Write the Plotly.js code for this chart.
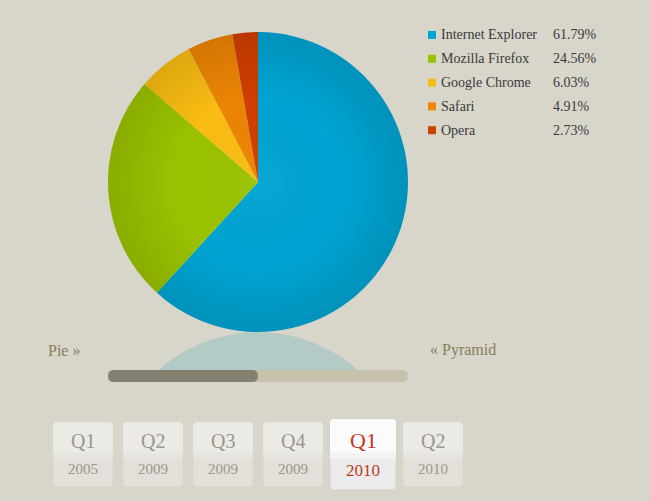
<!DOCTYPE html>
<html>
<head>
<meta charset="utf-8">
<script src="https://cdn.plot.ly/plotly-3.0.1.min.js"></script>
<style>
html,body{margin:0;padding:0;background:#d8d5ca;}
#chart{width:650px;height:501px;}
</style>
</head>
<body>
<div id="chart"></div>
<script>
const browsers = ["Internet Explorer", "Mozilla Firefox", "Google Chrome", "Safari", "Opera"];
const shares = [61.79, 24.56, 6.03, 4.91, 2.73];
const sliceColors = ["#00a4d2", "#9ac200", "#f9bc12", "#ec8404", "#d03e00"];
const quarters = ["Q1", "Q2", "Q3", "Q4", "Q1", "Q2"];
const years = ["2005", "2009", "2009", "2009", "2010", "2010"];
const selectedIndex = 4;
const navLeft = "Pie »";
const navRight = "« Pyramid";

const W = 650, H = 501;
const X = px => px / W;
const Y = py => 1 - py / H;
const serif = "Liberation Serif, Times New Roman, serif";

function rrect(x0, y0, x1, y1, r, topOnly) {
  const p = [];
  p.push("M" + X(x0 + r) + "," + Y(y0));
  p.push("L" + X(x1 - r) + "," + Y(y0));
  p.push("Q" + X(x1) + "," + Y(y0) + " " + X(x1) + "," + Y(y0 + r));
  if (topOnly) {
    p.push("L" + X(x1) + "," + Y(y1));
    p.push("L" + X(x0) + "," + Y(y1));
  } else {
    p.push("L" + X(x1) + "," + Y(y1 - r));
    p.push("Q" + X(x1) + "," + Y(y1) + " " + X(x1 - r) + "," + Y(y1));
    p.push("L" + X(x0 + r) + "," + Y(y1));
    p.push("Q" + X(x0) + "," + Y(y1) + " " + X(x0) + "," + Y(y1 - r));
  }
  p.push("L" + X(x0) + "," + Y(y0 + r));
  p.push("Q" + X(x0) + "," + Y(y0) + " " + X(x0 + r) + "," + Y(y0));
  p.push("Z");
  return p.join(" ");
}

const pieBox = {x0: 108, y0: 32, x1: 408, y1: 332};

const trace = {
  type: "pie",
  values: shares,
  labels: browsers,
  sort: false,
  direction: "clockwise",
  rotation: 0,
  textinfo: "none",
  hoverinfo: "label+percent",
  showlegend: false,
  marker: {colors: sliceColors, line: {width: 0}},
  domain: {x: [X(pieBox.x0), X(pieBox.x1)], y: [Y(pieBox.y1), Y(pieBox.y0)]}
};

const shapes = [];
const annotations = [];
const txtShift = 2;

// reflection of the pie
shapes.push({type: "circle", xref: "paper", yref: "paper", layer: "below",
  x0: X(108), x1: X(408), y0: Y(332), y1: Y(632),
  fillcolor: "#b4cac7", line: {width: 0}});
shapes.push({type: "rect", xref: "paper", yref: "paper", layer: "below",
  x0: 0, x1: 1, y0: 0, y1: Y(371),
  fillcolor: "#d8d5ca", line: {width: 0}});

// slider
shapes.push({type: "path", xref: "paper", yref: "paper", layer: "below",
  path: rrect(108, 370, 408, 382, 6), fillcolor: "#c8c1ab", line: {width: 0}});
shapes.push({type: "path", xref: "paper", yref: "paper", layer: "below",
  path: rrect(108, 370, 258, 382, 6), fillcolor: "#857f70", line: {width: 0}});

// legend
browsers.forEach((name, i) => {
  const cy = 35 + 23.8 * i;
  shapes.push({type: "rect", xref: "paper", yref: "paper", layer: "above",
    x0: X(428), x1: X(436), y0: Y(cy + 4), y1: Y(cy - 4),
    fillcolor: sliceColors[i], line: {width: 0}});
  annotations.push({xref: "paper", yref: "paper", x: X(441 - txtShift), y: Y(cy), xanchor: "left", yanchor: "middle",
    text: name, showarrow: false, font: {family: serif, size: 14, color: "#3a3a3a"}});
  annotations.push({xref: "paper", yref: "paper", x: X(553 - txtShift), y: Y(cy), xanchor: "left", yanchor: "middle",
    text: shares[i].toFixed(2) + "%", showarrow: false, font: {family: serif, size: 14, color: "#3a3a3a"}});
});

// nav labels
annotations.push({xref: "paper", yref: "paper", x: X(48 - txtShift), y: Y(350), xanchor: "left", yanchor: "middle",
  text: navLeft, showarrow: false, font: {family: serif, size: 16, color: "#8a7d5b"}});
annotations.push({xref: "paper", yref: "paper", x: X(430 - txtShift), y: Y(350), xanchor: "left", yanchor: "middle",
  text: navRight, showarrow: false, font: {family: serif, size: 16, color: "#8a7d5b"}});

// quarter buttons
const btnX = [53.3, 123.3, 193.3, 263.3, 330, 403.3];
quarters.forEach((q, i) => {
  const sel = i === selectedIndex;
  const x0 = btnX[i], x1 = sel ? x0 + 66 : x0 + 59.4;
  const y0 = sel ? 419 : 422.3, y1 = sel ? 490 : 486.7;
  const cx = (x0 + x1) / 2;
  const mid = (y0 + y1) / 2;
  shapes.push({type: "path", xref: "paper", yref: "paper", layer: "below",
    path: rrect(x0, y0, x1, y1, 4), fillcolor: sel ? "#ebebeb" : "#e2e0d9",
    line: {width: sel ? 0.6 : 0, color: "#cfcbc0"}});
  shapes.push({type: "path", xref: "paper", yref: "paper", layer: "below",
    path: rrect(x0, y0, x1, mid + 4, 4, true), fillcolor: sel ? "#f3f3f3" : "#e7e5df",
    line: {width: 0}});
  shapes.push({type: "path", xref: "paper", yref: "paper", layer: "below",
    path: rrect(x0, y0, x1, mid - 2, 4, true), fillcolor: sel ? "#fbfbfb" : "#ebeae5",
    line: {width: 0}});
  const col = sel ? "#c1391a" : "#9a968d";
  annotations.push({xref: "paper", yref: "paper", x: X(cx), y: Y(sel ? 440 : 440.7), xanchor: "center", yanchor: "middle",
    text: q, showarrow: false, font: {family: serif, size: sel ? 22 : 20, color: col}});
  annotations.push({xref: "paper", yref: "paper", x: X(cx), y: Y(sel ? 470.5 : 469.3), xanchor: "center", yanchor: "middle",
    text: years[i], showarrow: false, font: {family: serif, size: sel ? 17 : 15, color: col}});
});

// subtle radial shading over the pie
const svg = "<svg xmlns='http://www.w3.org/2000/svg' width='300' height='300'>" +
  "<defs><radialGradient id='g' cx='0.5' cy='0.5' r='0.5'>" +
  "<stop offset='0' stop-color='#ffffff' stop-opacity='0.04'/>" +
  "<stop offset='0.55' stop-color='#000000' stop-opacity='0'/>" +
  "<stop offset='1' stop-color='#000000' stop-opacity='0.11'/>" +
  "</radialGradient></defs><circle cx='150' cy='150' r='150' fill='url(#g)'/></svg>";

const layout = {
  width: W, height: H,
  margin: {l: 0, r: 0, t: 0, b: 0},
  paper_bgcolor: "#d8d5ca",
  plot_bgcolor: "#d8d5ca",
  showlegend: false,
  shapes: shapes,
  annotations: annotations,
  images: [{
    source: "data:image/svg+xml;charset=utf-8," + encodeURIComponent(svg),
    xref: "paper", yref: "paper",
    x: X(pieBox.x0), y: Y(pieBox.y0),
    sizex: X(pieBox.x1) - X(pieBox.x0), sizey: Y(pieBox.y0) - Y(pieBox.y1),
    xanchor: "left", yanchor: "top", sizing: "stretch", layer: "above"
  }]
};

Plotly.newPlot("chart", [trace], layout, {displayModeBar: false, staticPlot: false});
</script>
</body>
</html>
